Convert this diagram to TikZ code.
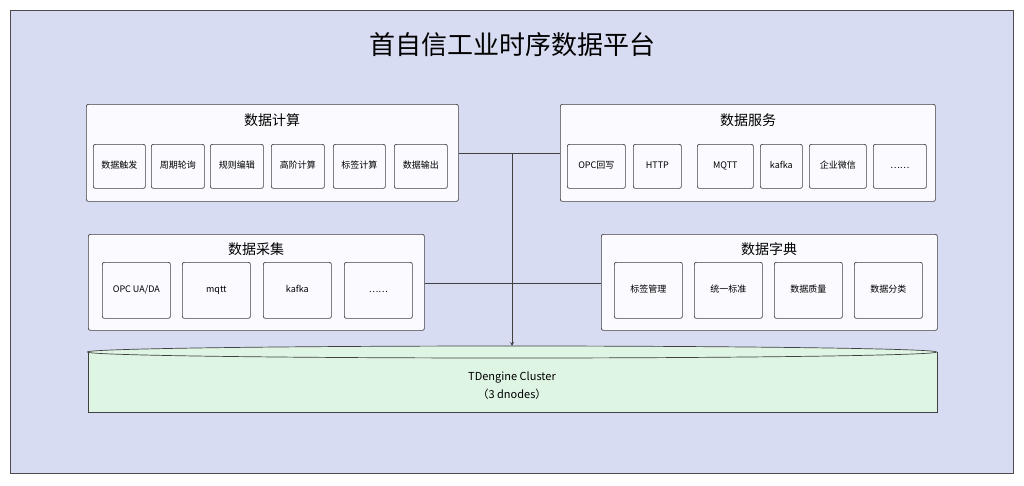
\documentclass[tikz,border=0pt]{standalone}
\usepackage{fontspec}
\setmainfont{Noto Sans CJK SC}
\begin{document}
\begin{tikzpicture}[x=1pt,y=-1pt,
 grp/.style={draw=black!75,fill=white!75!blue!8,rounded corners=2pt,line width=0.7pt},
 itm/.style={draw=black!75,fill=white!75!blue!8,rounded corners=2pt,line width=0.7pt,font=\fontsize{9}{10}\selectfont,text height=7pt,text depth=2pt},
 ttl/.style={font=\fontsize{14}{16}\selectfont},
 ln/.style={draw=black!75,line width=0.8pt}]
\useasboundingbox (0,0) rectangle (1024,485);
\definecolor{bg}{HTML}{D8DCF2}
\definecolor{cyl}{HTML}{DFF5E3}
\node[draw=black!70,fill=bg,minimum width=1003pt,minimum height=463pt,anchor=north west,inner sep=0pt] (frame) at (10,10) {};
\node[font=\fontsize{26}{30}\selectfont] (title) at (512,45) {首自信工业时序数据平台};
% groups
\node[grp,minimum width=372pt,minimum height=97pt,anchor=north west] (calc) at (86,104) {};
\node[ttl] at (272,120) {数据计算};
\node[grp,minimum width=375pt,minimum height=97pt,anchor=north west] (serv) at (560,104) {};
\node[ttl] at (748,120) {数据服务};
\node[grp,minimum width=336pt,minimum height=96pt,anchor=north west] (coll) at (88,234) {};
\node[ttl] at (256,249) {数据采集};
\node[grp,minimum width=336pt,minimum height=96pt,anchor=north west] (dict) at (601,234) {};
\node[ttl] at (769,249) {数据字典};
% calc items
\foreach \n/\x/\w/\t in {c1/93/52/数据触发,c2/151/53/周期轮询,c3/210/53/规则编辑,c4/271/53/高阶计算,c5/333/52/标签计算,c6/394/53/数据输出}
  \node[itm,minimum width=\w pt,minimum height=44pt,anchor=north west] (\n) at (\x,144) {\t};
\foreach \n/\x/\w/\t in {s1/567/58/OPC回写,s2/633/48/HTTP,s3/697/56/MQTT,s4/760/42/kafka,s5/809/57/企业微信,s6/873/53/……}
  \node[itm,minimum width=\w pt,minimum height=44pt,anchor=north west] (\n) at (\x,144) {\t};
\foreach \n/\x/\t in {k1/102/{OPC UA/DA},k2/182/mqtt,k3/263/kafka,k4/344/……}
  \node[itm,minimum width=68pt,minimum height=56pt,anchor=north west] (\n) at (\x,262) {\t};
\foreach \n/\x/\t in {d1/614/标签管理,d2/694/统一标准,d3/774/数据质量,d4/854/数据分类}
  \node[itm,minimum width=68pt,minimum height=56pt,anchor=north west] (\n) at (\x,262) {\t};
% cylinder
\draw[black!75,line width=0.7pt,fill=cyl] (88,352) -- (88,412) -- (937,412) -- (937,352);
\draw[black!75,line width=0.7pt,fill=cyl] (512,352) ellipse [x radius=424.5pt,y radius=6pt];
\node[font=\fontsize{11}{18}\selectfont,align=center] (db) at (512,386) {TDengine Cluster\\（3 dnodes）};
\coordinate (j1) at (512,153);
\coordinate (j2) at (512,283);
\coordinate (dbt) at (512,346);
\draw[ln] (calc.east |- j1) -- (serv.west |- j1);
\draw[ln] (coll.east |- j2) -- (dict.west |- j2);
\draw[ln,->,>=stealth] (j1) -- (dbt);
\end{tikzpicture}
\end{document}
